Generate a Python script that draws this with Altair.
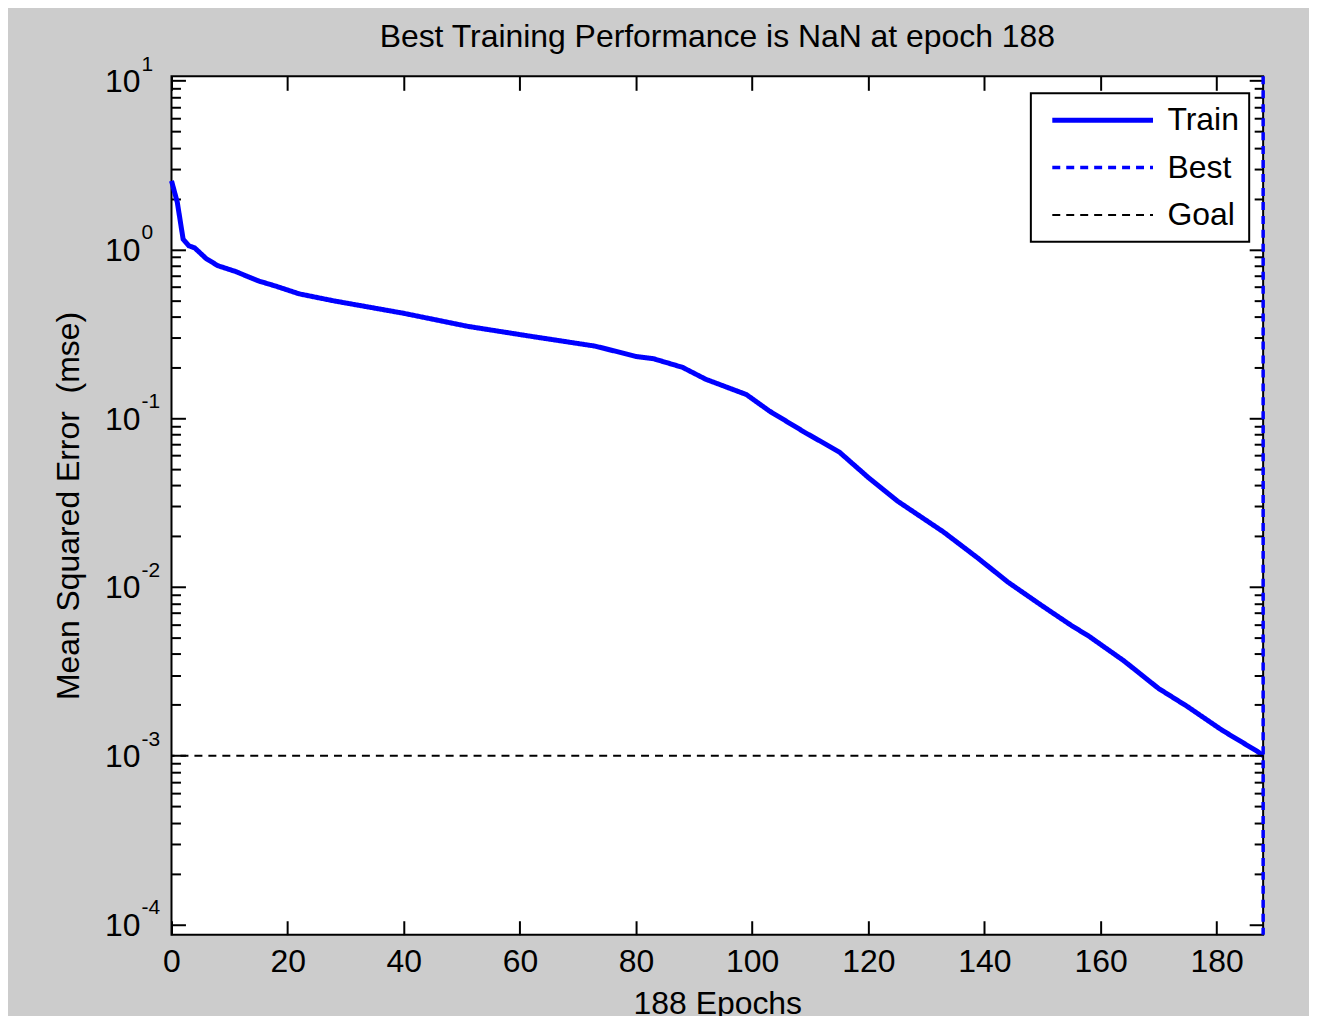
import altair as alt
import pandas as pd

# ---------------- data ----------------
epochs = [0, 1, 2, 3, 4, 6, 8, 11, 15, 18, 22, 28, 34, 40, 51, 62, 73, 80, 83, 88,
          92, 99, 103, 109, 115, 120, 125, 133, 139, 144, 150, 155, 158, 164, 170,
          175, 181, 187, 188]
mse = [2.55, 1.9, 1.15, 1.05, 1.02, 0.88, 0.80, 0.74, 0.65, 0.605, 0.545, 0.495,
       0.455, 0.418, 0.35, 0.305, 0.267, 0.232, 0.225, 0.2, 0.17, 0.138, 0.11,
       0.0826, 0.063, 0.0445, 0.0323, 0.0211, 0.0147, 0.0107, 0.0077, 0.0059,
       0.0051, 0.00365, 0.0025, 0.00195, 0.00141, 0.00106, 0.001]
goal_value = [0.001]
best_epoch = [188]

series_names = ["Train", "Best", "Goal"]
series_colors = ["#0000ff", "#0000ff", "#000000"]
series_dash = [[1, 0], [8, 6], [8, 6]]
series_width = [5, 2, 2]

x_ticks = [0, 20, 40, 60, 80, 100, 120, 140, 160, 180]
decade_exponents = [1, 0, -1, -2, -3, -4]
minor_multipliers = [2, 3, 4, 5, 6, 7, 8, 9]

title_text = "Best Training Performance is NaN at epoch 188"
x_title = "188 Epochs"
y_title = "Mean Squared Error \u00a0(mse)"

# ---------------- layout / style ----------------
FONT = "Liberation Sans"
W, H = 1095, 861
X_DOMAIN = [0, 188]
Y_DOMAIN = [10 ** -4.061, 10 ** 1.0254]

decades = [10.0 ** e for e in decade_exponents]
minors = [m * 10.0 ** e for e in range(-4, 1) for m in minor_multipliers]

xs = alt.Scale(domain=X_DOMAIN, nice=False, zero=False)
ys = alt.Scale(type="log", domain=Y_DOMAIN, nice=False)
color_scale = alt.Scale(domain=series_names, range=series_colors)
dash_scale = alt.Scale(domain=series_names, range=series_dash)
width_scale = alt.Scale(domain=series_names, range=series_width)

leg = alt.Legend(
    title=None, orient="none", legendX=862, legendY=17, direction="vertical",
    symbolType="stroke", symbolSize=10201, labelFont=FONT, labelFontSize=32,
    labelColor="black", labelOffset=12, padding=10, symbolOffset=9,
    clipHeight=34, rowPadding=13.5, fillColor="white", strokeColor="black",
)


def series_enc():
    return dict(
        color=alt.Color("series:N", scale=color_scale, legend=leg),
        strokeDash=alt.StrokeDash("series:N", scale=dash_scale, legend=leg),
        strokeWidth=alt.StrokeWidth("series:N", scale=width_scale, legend=leg),
    )


train_df = pd.DataFrame({"epoch": epochs, "mse": mse, "series": "Train"})
goal_df = pd.DataFrame({"goal": goal_value, "series": "Goal"})
best_df = pd.DataFrame({"best": best_epoch, "series": "Best"})
dec_df = pd.DataFrame({"v": decades, "exp": [str(e) for e in decade_exponents],
                       "base": ["10"] * len(decades)})

line = alt.Chart(train_df).mark_line().encode(
    x=alt.X("epoch:Q", scale=xs, axis=alt.Axis(
        orient="bottom", values=x_ticks, tickSize=14, offset=-14, labelPadding=12,
        labelFontSize=32, labelFlush=False, format="d", title=x_title,
        titleFontSize=32, titleBaseline="top", titleY=68)),
    y=alt.Y("mse:Q", scale=ys, axis=alt.Axis(
        orient="left", values=decades, tickSize=14, offset=-14, labels=False,
        title=y_title, titleFontSize=32, titleBaseline="alphabetic", titleX=-107)),
    **series_enc(),
)

goal = alt.Chart(goal_df).mark_rule().encode(
    y=alt.Y("goal:Q", scale=ys, axis=alt.Axis(
        orient="left", values=minors, tickSize=9, offset=-9, labels=False, title=None)),
    **series_enc(),
)

best = alt.Chart(best_df).mark_rule().encode(
    x=alt.X("best:Q", scale=xs, axis=alt.Axis(
        orient="top", values=x_ticks, tickSize=14, offset=-14, labels=False, title=None)),
    **series_enc(),
)

tens = alt.Chart(dec_df).mark_text(
    align="right", baseline="alphabetic", dy=11.5, fontSize=32, font=FONT, color="black"
).encode(
    x=alt.value(-31),
    y=alt.Y("v:Q", scale=ys, axis=alt.Axis(
        orient="right", values=decades, tickSize=14, offset=-14, labels=False, title=None)),
    text="base:N",
)

exps = alt.Chart(dec_df).mark_text(
    align="left", baseline="alphabetic", dy=-10, fontSize=21, font=FONT, color="black"
).encode(
    x=alt.value(-30),
    y=alt.Y("v:Q", scale=ys, axis=alt.Axis(
        orient="right", values=minors, tickSize=9, offset=-9, labels=False, title=None)),
    text="exp:N",
)

chart = alt.layer(line, goal, best, tens, exps).resolve_axis(
    x="independent", y="independent"
).properties(
    width=W, height=H,
    padding={"left": 164, "top": 67, "right": 46, "bottom": 80},
    autosize=alt.AutoSizeParams(type="none"),
    title=alt.TitleParams(title_text, frame="group", anchor="middle", offset=0, dy=25,
                          baseline="alphabetic", fontSize=32, font=FONT,
                          fontWeight="normal", color="black"),
).configure(
    background="#cccccc", font=FONT,
).configure_view(
    fill="white", stroke="black", strokeWidth=2,
).configure_axis(
    domain=False, grid=False, tickColor="black", tickWidth=2,
    labelFont=FONT, titleFont=FONT, labelColor="black", titleColor="black",
    titleFontWeight="normal",
).configure_legend(
    strokeWidth=2,
)

chart.save("out.html", embed_options={"renderer": "svg", "actions": False})
